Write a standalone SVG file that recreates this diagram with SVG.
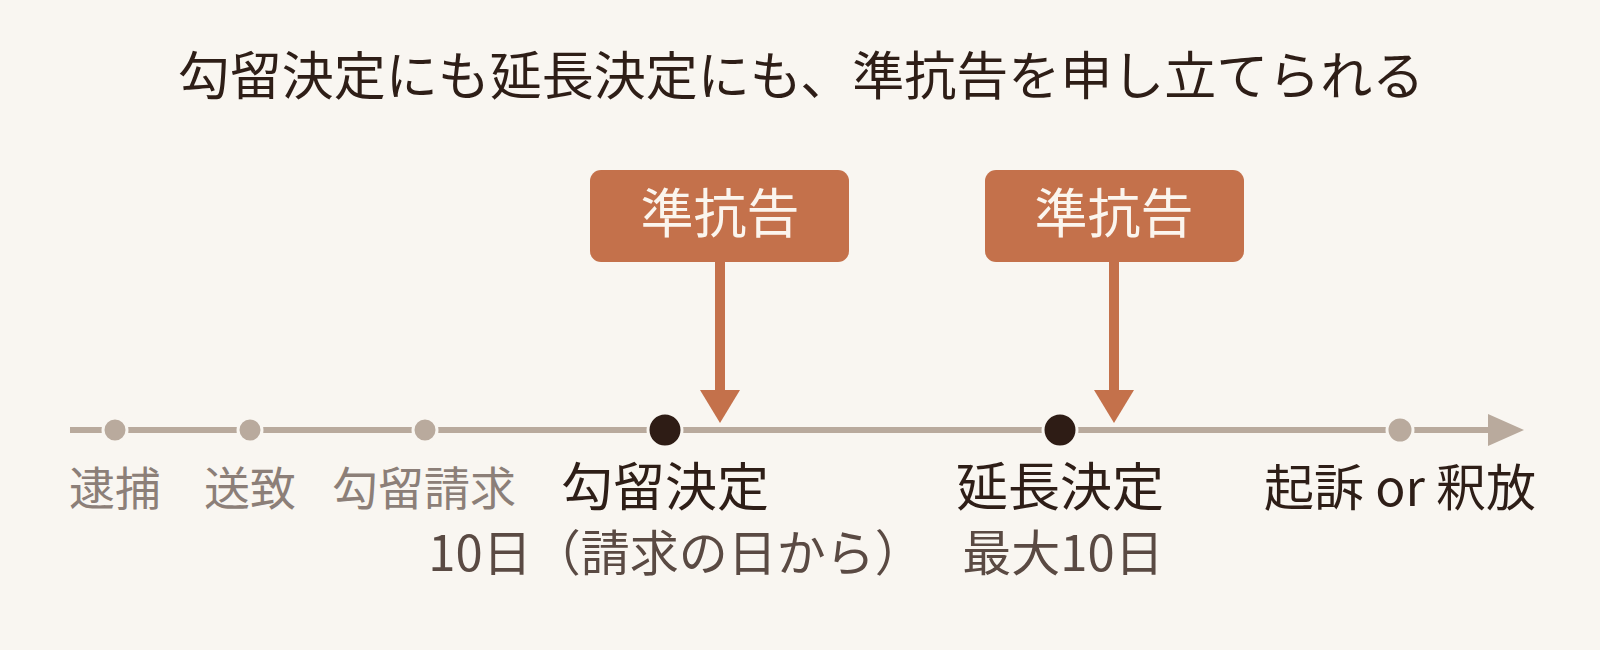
<svg xmlns="http://www.w3.org/2000/svg" width="1600" height="650" viewBox="0 0 1600 650">
<style>
text{font-family:"Noto Sans CJK JP","Noto Sans",sans-serif;text-anchor:middle}
.title{font-size:52px;fill:#2e1e17}
.box{fill:#c4714b}
.btext{font-size:53px;fill:#fbf5ee}
.grey{font-size:46px;fill:#8c7f78}
.dark{font-size:52px;fill:#2e1e17}
.kiso{font-size:50px;fill:#2e1e17}
.sub{font-size:49px;fill:#5a4a43}
.sdot{fill:#b9aa9d;stroke:#f9f6f1;stroke-width:3}
.bdot{fill:#2e1c15;stroke:#f9f6f1;stroke-width:3}
</style>
<rect width="1600" height="650" fill="#f9f6f1"/>
<text class="title" x="801" y="95">勾留決定にも延長決定にも、準抗告を申し立てられる</text>
<g id="connectors">
<line x1="70" y1="430" x2="1492" y2="430" stroke="#b9aa9d" stroke-width="6"/>
<polygon points="1488,414 1524,430 1488,446" fill="#b9aa9d"/>
<rect x="715" y="260" width="10" height="132" fill="#c4714b"/>
<polygon points="700,390 740,390 720,423" fill="#c4714b"/>
<rect x="1109" y="260" width="10" height="132" fill="#c4714b"/>
<polygon points="1094,390 1134,390 1114,423" fill="#c4714b"/>
</g>
<g id="box1"><rect class="box" x="590" y="170" width="259" height="92" rx="11"/><text class="btext" x="720" y="233">準抗告</text></g>
<g id="box2"><rect class="box" x="985" y="170" width="259" height="92" rx="11"/><text class="btext" x="1114" y="233">準抗告</text></g>
<g id="taiho"><circle class="sdot" cx="115" cy="430" r="12"/><text class="grey" x="115" y="505">逮捕</text></g>
<g id="souchi"><circle class="sdot" cx="250" cy="430" r="12"/><text class="grey" x="250" y="505">送致</text></g>
<g id="seikyu"><circle class="sdot" cx="425" cy="430" r="12"/><text class="grey" x="424" y="505">勾留請求</text></g>
<g id="kettei"><circle class="bdot" cx="665" cy="430" r="17"/><text class="dark" x="665" y="506">勾留決定</text><text class="sub" x="676" y="571">10日（請求の日から）</text></g>
<g id="encho"><circle class="bdot" cx="1060" cy="430" r="17"/><text class="dark" x="1060" y="506">延長決定</text><text class="sub" x="1063" y="571">最大10日</text></g>
<g id="kiso"><circle class="sdot" cx="1400" cy="430" r="13"/><text class="kiso" x="1400" y="506">起訴 or 釈放</text></g>
</svg>
